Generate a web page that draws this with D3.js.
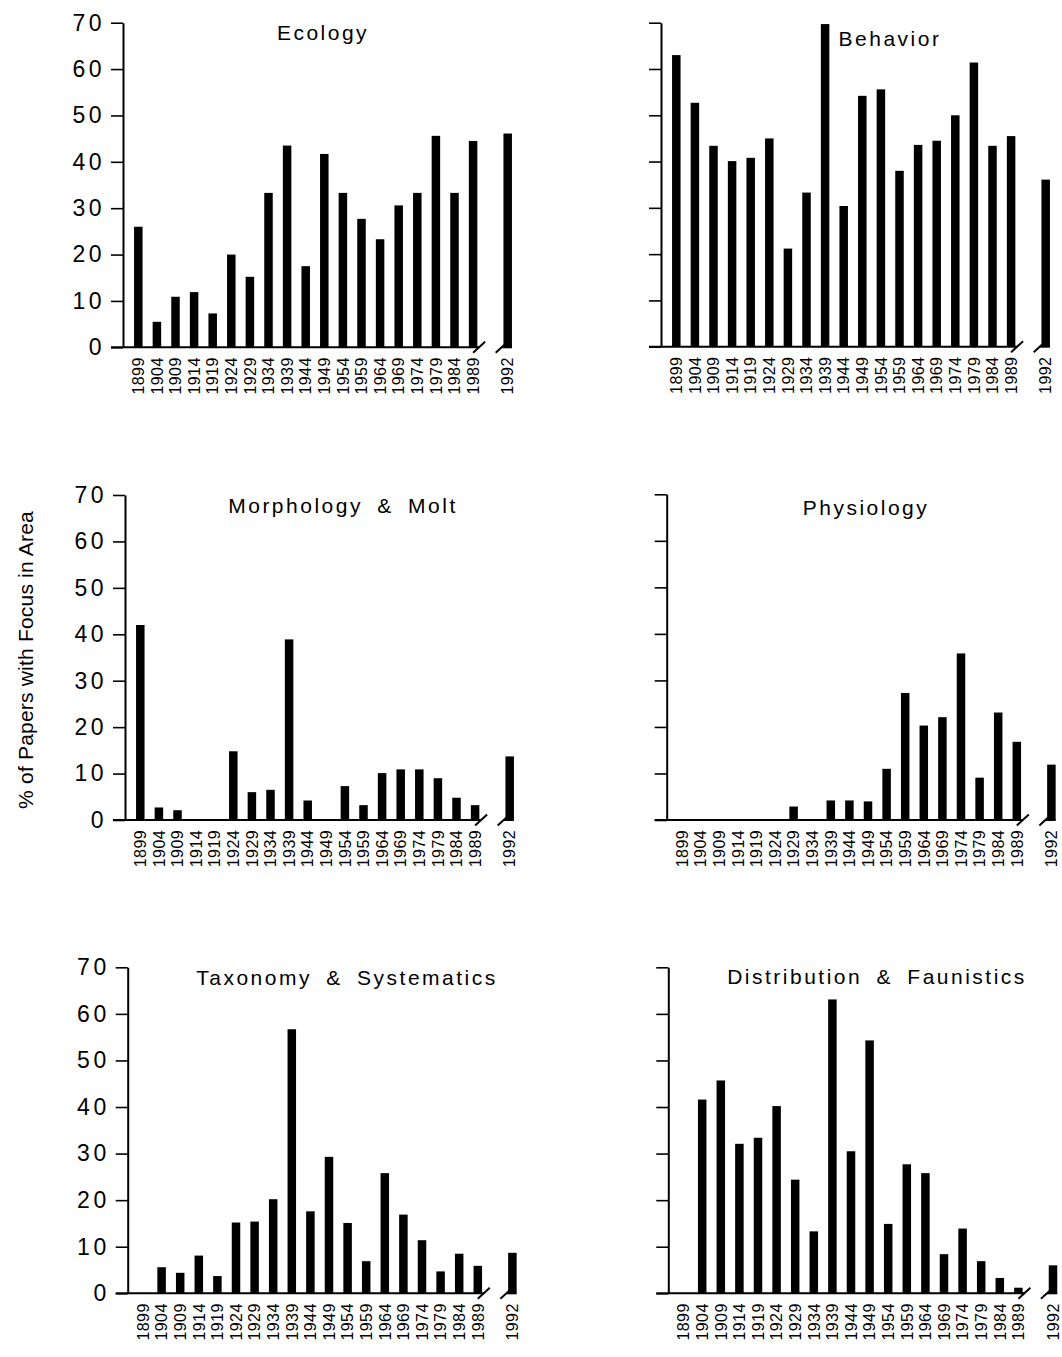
<!DOCTYPE html>
<html><head><meta charset="utf-8">
<script src="https://cdn.jsdelivr.net/npm/d3@7"></script>
<style>body{margin:0;background:#fff}</style>
</head><body>
<svg id="chart" width="1062" height="1357"></svg>
<script>
// ---------- data ----------
const years = ["1899","1904","1909","1914","1919","1924","1929","1934","1939","1944","1949","1954","1959","1964","1969","1974","1979","1984","1989","1992"];
const ecology      = [26.0, 5.5, 10.9, 11.9, 7.3, 20.0, 15.2, 33.3, 43.5, 17.5, 41.7, 33.3, 27.7, 23.3, 30.6, 33.3, 45.6, 33.3, 44.5, 46.1];
const behavior     = [63.0, 52.7, 43.4, 40.1, 40.8, 45.0, 21.2, 33.3, 69.7, 30.4, 54.2, 55.6, 38.0, 43.6, 44.5, 50.0, 61.4, 43.4, 45.5, 36.1];
const morphology   = [42.0, 2.7, 2.1, 0, 0, 14.8, 6.0, 6.5, 38.9, 4.2, 0, 7.3, 3.2, 10.1, 10.9, 10.9, 9.0, 4.8, 3.2, 13.7];
const physiology   = [0, 0, 0, 0, 0, 0, 2.9, 0, 4.2, 4.2, 4.0, 11.0, 27.3, 20.3, 22.1, 35.8, 9.1, 23.1, 16.8, 11.9];
const taxonomy     = [0, 5.6, 4.4, 8.1, 3.7, 15.2, 15.4, 20.2, 56.7, 17.6, 29.3, 15.1, 6.9, 25.8, 16.9, 11.4, 4.7, 8.5, 5.9, 8.7];
const distribution = [0, 41.6, 45.7, 32.1, 33.4, 40.2, 24.4, 13.3, 63.1, 30.5, 54.3, 14.9, 27.7, 25.8, 8.4, 13.9, 6.9, 3.3, 1.2, 6.0];
const panelTitles = ["Ecology", "Behavior", "Morphology & Molt", "Physiology", "Taxonomy & Systematics", "Distribution & Faunistics"];
const yTickValues = [0, 10, 20, 30, 40, 50, 60, 70];
const yAxisTitle = "% of Papers with Focus in Area";

const series = [ecology, behavior, morphology, physiology, taxonomy, distribution];

// ---------- layout ----------
const layout = [
  {x0:123,   top:22.7,  bottom:347.3,  labels:true,  titleX:323, titleDy:17},
  {x0:661,   top:22.7,  bottom:346.7,  labels:false, titleX:890, titleDy:23},
  {x0:125,   top:495,   bottom:820,    labels:true,  titleX:343, titleDy:18},
  {x0:666.7, top:494.3, bottom:820,    labels:false, titleX:866, titleDy:21},
  {x0:127.7, top:967.3, bottom:1293.3, labels:true,  titleX:347, titleDy:18},
  {x0:668.3, top:967.3, bottom:1293.3, labels:false, titleX:877, titleDy:17}
];
const step = 18.6, firstOff = 15.3, barW = 8.5, gapSlots = 1.86, tickLen = 12;
const FONT = "'Liberation Sans', Arial, sans-serif";

const svg = d3.select("#chart");
svg.append("rect").attr("width",1062).attr("height",1357).attr("fill","#fff");

const slot = i => i < years.length - 1 ? i : (years.length - 2) + gapSlots;

series.forEach((vals, p) => {
  const L = layout[p];
  const g = svg.append("g");
  const xs = d3.scaleLinear().domain([0, 18]).range([L.x0 + firstOff, L.x0 + firstOff + 18 * step]);
  const ys = d3.scaleLinear().domain([0, 70]).range([L.bottom, L.top]);

  // bars
  g.selectAll("rect.bar").data(vals).join("rect")
    .attr("class","bar")
    .attr("x", (d,i) => xs(slot(i)) - barW/2)
    .attr("width", barW)
    .attr("y", d => ys(d))
    .attr("height", d => ys(0) - ys(d))
    .attr("fill", "#000");

  // y axis
  const ya = g.append("g").attr("transform", `translate(${L.x0},0)`)
    .call(d3.axisLeft(ys).tickValues(yTickValues).tickSize(tickLen).tickSizeOuter(0)
      .tickPadding(6).tickFormat(L.labels ? d3.format("d") : () => ""));
  ya.select(".domain").attr("stroke","#000").attr("stroke-width",2);
  ya.selectAll(".tick line").attr("stroke","#000").attr("stroke-width",1.6);
  ya.selectAll("text").attr("font-family", FONT).attr("font-size", 23)
    .attr("letter-spacing", 3.5).attr("fill","#000");

  // x baseline with break
  const y0 = ys(0);
  const n = years.length;
  const b1 = xs(slot(n-2)) + 6;
  const b2 = xs(slot(n-1)) - 6;
  const endX = xs(slot(n-1)) + barW/2;
  const lineG = g.append("g").attr("stroke","#000").attr("stroke-width",2).attr("fill","none");
  lineG.append("line").attr("x1", L.x0 - tickLen).attr("x2", b1).attr("y1", y0).attr("y2", y0);
  lineG.append("line").attr("x1", b2).attr("x2", endX).attr("y1", y0).attr("y2", y0);
  [b1, b2].forEach(bx => {
    lineG.append("line").attr("x1", bx - 6).attr("y1", y0 + 5.5).attr("x2", bx + 6).attr("y2", y0 - 5.5);
  });

  // x labels
  g.selectAll("text.xl").data(years).join("text")
    .attr("class","xl")
    .attr("transform", (d,i) => `translate(${xs(slot(i))},${y0 + 10}) rotate(-90)`)
    .attr("text-anchor","end")
    .attr("dy","0.36em")
    .attr("font-family", FONT).attr("font-size", 16).attr("letter-spacing", 0.4)
    .attr("fill","#000")
    .text(d => d);

  // title
  g.append("text")
    .attr("x", L.titleX).attr("y", L.top + L.titleDy)
    .attr("text-anchor","middle")
    .attr("font-family", FONT).attr("font-size", 21)
    .attr("letter-spacing", 2.5).attr("word-spacing", 6)
    .attr("fill","#000")
    .text(panelTitles[p]);
});

// y axis title
svg.append("text")
  .attr("transform","translate(33,660) rotate(-90)")
  .attr("text-anchor","middle")
  .attr("font-family", FONT).attr("font-size", 21).attr("letter-spacing", 0.2)
  .attr("fill","#000")
  .text(yAxisTitle);
</script>
</body></html>
